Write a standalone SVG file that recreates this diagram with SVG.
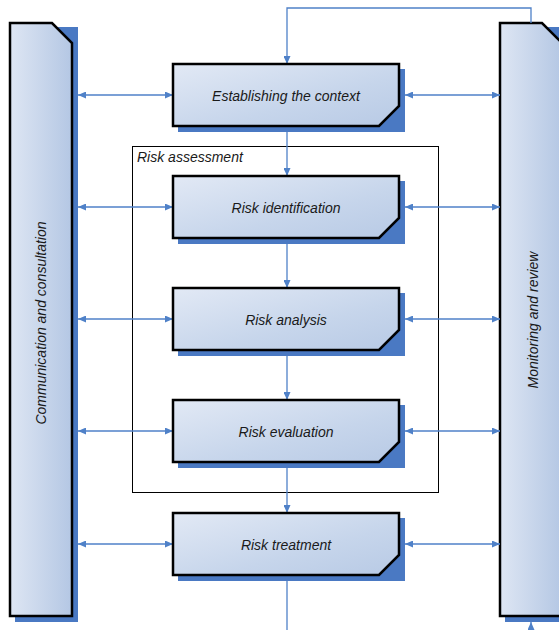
<svg xmlns="http://www.w3.org/2000/svg" width="559" height="630" viewBox="0 0 559 630">
<style>
.box{stroke:#000;stroke-width:2.5;fill:url(#gBox);stroke-linejoin:miter}
.bar{stroke:#000;stroke-width:2.5;fill:url(#gBar)}
.sh{fill:#4a79c3}
.lbl{font-family:"Liberation Sans",Arial,sans-serif;font-style:italic;font-size:14px;fill:#1a1a1a;text-anchor:middle}
.c{stroke:#4f81c8;stroke-width:1.3;fill:none}
.a2{marker-start:url(#ah);marker-end:url(#ah)}
.a1{marker-end:url(#ah)}
</style>
<defs>
<linearGradient id="gBox" x1="0" y1="0" x2="1" y2="1">
<stop offset="0" stop-color="#e2e9f5"/><stop offset="0.6" stop-color="#c6d5eb"/><stop offset="1" stop-color="#b8cae5"/>
</linearGradient>
<linearGradient id="gBar" x1="0" y1="0" x2="1" y2="0">
<stop offset="0" stop-color="#dee6f3"/><stop offset="1" stop-color="#b4c7e4"/>
</linearGradient>
<marker id="ah" viewBox="0 0 8 7" refX="8" refY="3.5" markerWidth="8" markerHeight="7" markerUnits="userSpaceOnUse" orient="auto-start-reverse">
<path d="M0,0 L8,3.5 L0,7 z" fill="#4f81c8"/>
</marker>
</defs>

<g id="communication">
<rect class="sh" x="15" y="27" width="63" height="595"/>
<polygon class="bar" points="10,23 52,23 72,43 72,616 10,616"/>
<text class="lbl" transform="translate(46,323) rotate(-90)">Communication and consultation</text>
</g>

<g id="monitoring">
<rect class="sh" x="505" y="27" width="63" height="595"/>
<polygon class="bar" points="500,23 542,23 562,43 562,616 500,616"/>
<text class="lbl" transform="translate(538,320) rotate(-90)">Monitoring and review</text>
</g>

<g id="risk-assessment">
<rect x="132.5" y="146.5" width="306" height="346" fill="none" stroke="#000" stroke-width="1"/>
<text x="137" y="162" class="lbl" style="text-anchor:start">Risk assessment</text>
</g>

<g id="connectors">
<path class="c a1" d="M531,23 V8 H287 V64"/>
<path class="c a1" d="M287,126 V176"/>
<path class="c a1" d="M287,238 V288"/>
<path class="c a1" d="M287,350 V400"/>
<path class="c a1" d="M287,462 V513"/>
<path class="c" d="M287,575 V630"/>
<path class="c a1" d="M531,630 V622"/>
<path class="c a2" d="M78,95 H173"/>
<path class="c a2" d="M78,207 H173"/>
<path class="c a2" d="M78,319 H173"/>
<path class="c a2" d="M78,431 H173"/>
<path class="c a2" d="M78,544 H173"/>
<path class="c a2" d="M405,95 H500"/>
<path class="c a2" d="M405,207 H500"/>
<path class="c a2" d="M405,319 H500"/>
<path class="c a2" d="M405,431 H500"/>
<path class="c a2" d="M405,544 H500"/>
</g>

<g id="establishing">
<rect class="sh" x="178" y="69" width="227" height="63"/>
<polygon class="box" points="173,64 399,64 399,106 379,126 173,126"/>
<text class="lbl" x="286" y="101">Establishing the context</text>
</g>
<g id="identification">
<rect class="sh" x="178" y="181" width="227" height="63"/>
<polygon class="box" points="173,176 399,176 399,218 379,238 173,238"/>
<text class="lbl" x="286" y="213">Risk identification</text>
</g>
<g id="analysis">
<rect class="sh" x="178" y="293" width="227" height="63"/>
<polygon class="box" points="173,288 399,288 399,330 379,350 173,350"/>
<text class="lbl" x="286" y="325">Risk analysis</text>
</g>
<g id="evaluation">
<rect class="sh" x="178" y="405" width="227" height="63"/>
<polygon class="box" points="173,400 399,400 399,442 379,462 173,462"/>
<text class="lbl" x="286" y="437">Risk evaluation</text>
</g>
<g id="treatment">
<rect class="sh" x="178" y="518" width="227" height="63"/>
<polygon class="box" points="173,513 399,513 399,555 379,575 173,575"/>
<text class="lbl" x="286" y="550">Risk treatment</text>
</g>
</svg>
